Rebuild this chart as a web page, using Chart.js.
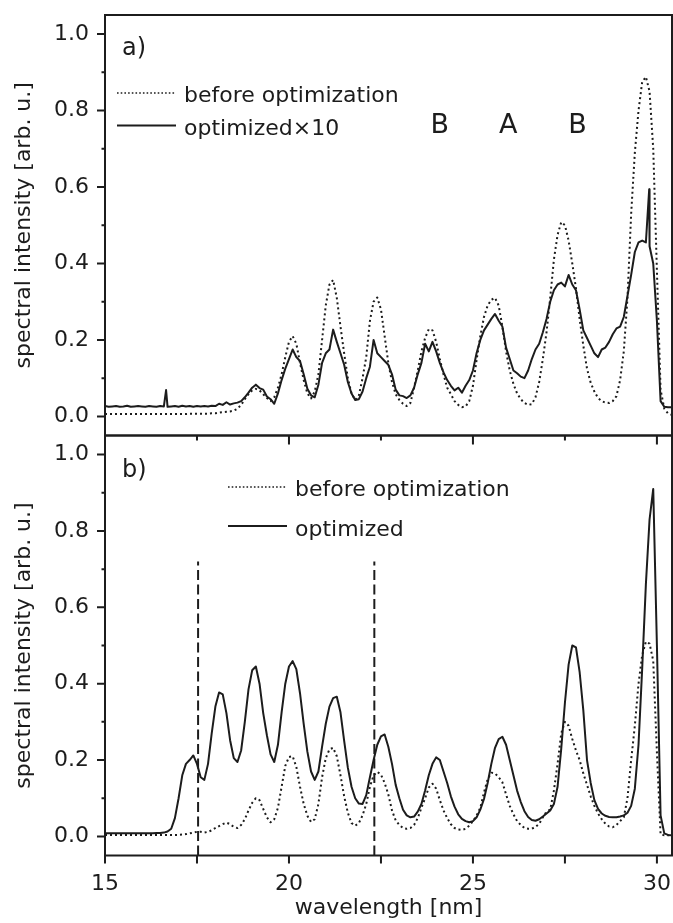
<!DOCTYPE html>
<html>
<head>
<meta charset="utf-8">
<script src="https://cdn.jsdelivr.net/npm/chart.js@4.4.1/dist/chart.umd.min.js"></script>
<style>
html,body{margin:0;padding:0;background:#fff;}
#wrap{position:relative;width:673px;height:923px;overflow:hidden;background:#fff;}
canvas{position:absolute;left:0;top:0;}
</style>
</head>
<body>
<div id="wrap">
<canvas id="chartB" width="673" height="923" style="width:673px;height:923px"></canvas>
<canvas id="chartA" width="673" height="923" style="width:673px;height:923px"></canvas>
</div>
<script>
// ---------------- data ----------------
const wavelength = [
15.0,15.1,15.2,15.3,15.4,15.5,15.6,15.7,15.8,15.9,
16.0,16.1,16.2,16.3,16.4,16.5,16.6,16.7,16.8,16.9,
17.0,17.1,17.2,17.3,17.4,17.5,17.6,17.7,17.8,17.9,
18.0,18.1,18.2,18.3,18.4,18.5,18.6,18.7,18.8,18.9,
19.0,19.1,19.2,19.3,19.4,19.5,19.6,19.7,19.8,19.9,
20.0,20.1,20.2,20.3,20.4,20.5,20.6,20.7,20.8,20.9,
21.0,21.1,21.2,21.3,21.4,21.5,21.6,21.7,21.8,21.9,
22.0,22.1,22.2,22.3,22.4,22.5,22.6,22.7,22.8,22.9,
23.0,23.1,23.2,23.3,23.4,23.5,23.6,23.7,23.8,23.9,
24.0,24.1,24.2,24.3,24.4,24.5,24.6,24.7,24.8,24.9,
25.0,25.1,25.2,25.3,25.4,25.5,25.6,25.7,25.8,25.9,
26.0,26.1,26.2,26.3,26.4,26.5,26.6,26.7,26.8,26.9,
27.0,27.1,27.2,27.3,27.4,27.5,27.6,27.7,27.8,27.9,
28.0,28.1,28.2,28.3,28.4,28.5,28.6,28.7,28.8,28.9,
29.0,29.1,29.2,29.3,29.4,29.5,29.6,29.7,29.8,29.9,
30.0,30.1,30.2,30.3,30.4
];

// panel a) before optimization (dotted)
const beforeA = [
0.006,0.006,0.006,0.006,0.006,0.006,0.006,0.006,0.006,0.006,
0.006,0.006,0.006,0.006,0.006,0.006,0.006,0.006,0.006,0.006,
0.006,0.006,0.006,0.007,0.007,0.007,0.007,0.007,0.007,0.008,
0.008,0.010,0.011,0.012,0.013,0.015,0.020,0.030,0.045,0.058,
0.068,0.072,0.068,0.058,0.048,0.040,0.050,0.075,0.110,0.155,
0.195,0.210,0.190,0.140,0.095,0.060,0.047,0.065,0.110,0.200,
0.290,0.345,0.357,0.310,0.235,0.165,0.100,0.060,0.043,0.055,
0.100,0.155,0.250,0.300,0.311,0.280,0.210,0.140,0.090,0.058,
0.043,0.033,0.027,0.035,0.075,0.120,0.170,0.205,0.228,0.225,
0.195,0.150,0.110,0.075,0.058,0.040,0.030,0.024,0.026,0.040,
0.080,0.148,0.210,0.260,0.290,0.305,0.310,0.290,0.235,0.170,
0.120,0.085,0.060,0.045,0.035,0.030,0.032,0.050,0.090,0.150,
0.220,0.310,0.410,0.475,0.508,0.500,0.460,0.400,0.335,0.255,
0.185,0.125,0.088,0.065,0.048,0.040,0.036,0.035,0.040,0.053,
0.095,0.170,0.310,0.530,0.690,0.800,0.875,0.888,0.850,0.700,
0.380,0.070,0.020,0.008,0.004
];

// panel a) optimized x10 (solid)
const optimizedA = [
0.027,0.025,0.026,0.027,0.025,0.026,0.028,0.025,0.026,0.027,
0.026,0.025,0.027,0.026,0.025,0.027,0.026,0.025,0.026,0.027,
0.025,0.028,0.026,0.027,0.025,0.027,0.026,0.027,0.026,0.028,
0.027,0.033,0.030,0.037,0.031,0.034,0.036,0.040,0.050,0.062,
0.075,0.083,0.074,0.070,0.052,0.045,0.033,0.060,0.095,0.125,
0.150,0.175,0.155,0.145,0.110,0.072,0.055,0.050,0.083,0.140,
0.165,0.175,0.227,0.195,0.165,0.135,0.090,0.060,0.043,0.045,
0.065,0.100,0.130,0.200,0.165,0.155,0.145,0.135,0.110,0.070,
0.055,0.053,0.048,0.055,0.075,0.110,0.140,0.190,0.170,0.195,
0.170,0.140,0.115,0.095,0.080,0.068,0.075,0.062,0.080,0.095,
0.120,0.166,0.200,0.225,0.240,0.255,0.268,0.250,0.235,0.180,
0.150,0.120,0.113,0.104,0.100,0.120,0.150,0.175,0.190,0.220,
0.255,0.300,0.330,0.345,0.350,0.340,0.370,0.345,0.330,0.280,
0.225,0.205,0.185,0.165,0.155,0.175,0.180,0.195,0.215,0.230,
0.235,0.260,0.315,0.370,0.430,0.455,0.460,0.455,0.445,0.400,
0.250,0.040,0.025,0.024,0.024
];
// narrow spikes in the optimized x10 trace
const spikeWavelength = [16.66, 29.79];
const spikeValue = [0.069, 0.594];

// panel b) before optimization (dotted)
const beforeB = [
0.004,0.004,0.004,0.004,0.004,0.004,0.004,0.004,0.004,0.004,
0.004,0.004,0.004,0.004,0.004,0.004,0.004,0.004,0.004,0.004,
0.004,0.005,0.006,0.008,0.010,0.012,0.012,0.010,0.012,0.016,
0.022,0.027,0.032,0.036,0.032,0.025,0.022,0.030,0.045,0.068,
0.088,0.100,0.095,0.072,0.050,0.037,0.045,0.075,0.130,0.185,
0.208,0.210,0.182,0.130,0.085,0.054,0.038,0.045,0.085,0.155,
0.205,0.228,0.232,0.210,0.160,0.105,0.062,0.035,0.028,0.035,
0.055,0.085,0.130,0.160,0.169,0.162,0.140,0.110,0.068,0.042,
0.030,0.022,0.020,0.022,0.030,0.048,0.075,0.100,0.128,0.138,
0.125,0.095,0.068,0.048,0.032,0.022,0.018,0.017,0.020,0.028,
0.040,0.055,0.075,0.115,0.150,0.167,0.165,0.155,0.142,0.110,
0.080,0.058,0.040,0.030,0.022,0.020,0.020,0.025,0.033,0.050,
0.065,0.070,0.120,0.190,0.270,0.300,0.290,0.255,0.225,0.200,
0.165,0.135,0.105,0.080,0.060,0.045,0.033,0.026,0.024,0.030,
0.040,0.050,0.100,0.200,0.290,0.400,0.475,0.510,0.505,0.460,
0.220,0.005,0.003,0.003,0.003
];

// panel b) optimized (solid)
const optimizedB = [
0.008,0.008,0.008,0.008,0.008,0.008,0.008,0.008,0.008,0.008,
0.008,0.008,0.008,0.008,0.009,0.009,0.010,0.013,0.020,0.048,
0.100,0.160,0.190,0.200,0.212,0.190,0.155,0.148,0.190,0.270,
0.340,0.377,0.372,0.323,0.252,0.205,0.195,0.225,0.300,0.385,
0.435,0.445,0.400,0.323,0.265,0.215,0.195,0.240,0.325,0.400,
0.445,0.459,0.438,0.375,0.295,0.222,0.170,0.148,0.170,0.235,
0.295,0.340,0.362,0.366,0.325,0.250,0.180,0.130,0.100,0.086,
0.085,0.108,0.155,0.200,0.240,0.262,0.267,0.235,0.190,0.135,
0.100,0.070,0.055,0.050,0.052,0.065,0.085,0.120,0.160,0.190,
0.207,0.200,0.170,0.140,0.105,0.078,0.058,0.046,0.040,0.037,
0.040,0.050,0.070,0.098,0.140,0.190,0.232,0.255,0.261,0.240,
0.200,0.160,0.120,0.090,0.066,0.051,0.043,0.041,0.045,0.052,
0.060,0.068,0.085,0.130,0.230,0.350,0.450,0.500,0.495,0.430,
0.330,0.200,0.140,0.095,0.072,0.060,0.054,0.051,0.050,0.050,
0.052,0.055,0.062,0.080,0.125,0.240,0.440,0.660,0.830,0.910,
0.500,0.055,0.008,0.004,0.003
];

// dashed markers in panel b)
const markerWavelength = [17.53, 22.32];
const markerTop = 0.72;

// ticks and labels
const xTickLabels = [15, 20, 25, 30];
const xMinorTicks = [17.5, 22.5, 27.5];
const yTickLabels = [0.0, 0.2, 0.4, 0.6, 0.8, 1.0];
const yMinorTicks = [0.1, 0.3, 0.5, 0.7, 0.9];
const legendA = ['before optimization', 'optimized\u00d710'];
const legendB = ['before optimization', 'optimized'];
const peakLabels = ['B', 'A', 'B'];
const yTitle = 'spectral intensity [arb. u.]';
const xTitle = 'wavelength [nm]';

// ---------------- rendering ----------------
const INK = '#1c1c1c';
const FONT = "'DejaVu Sans', 'Liberation Sans', sans-serif";
const X_MIN = 15, X_MAX = 30.41, Y_MIN = -0.05, Y_MAX = 1.05;
const DOT = [2, 3];

function pts(xs, ys) { return xs.map((x, i) => ({x: x, y: ys[i]})); }
function withSpikes(xs, ys, sx, sy) {
  const arr = pts(xs, ys).concat(pts(sx, sy));
  arr.sort((a, b) => a.x - b.x);
  return arr;
}

const decor = {
  id: 'decor',
  afterDraw(chart, args, o) {
    const {ctx, chartArea: a} = chart;
    const xs = chart.scales.x, ys = chart.scales.y;
    ctx.save();
    ctx.strokeStyle = INK;
    ctx.fillStyle = INK;
    ctx.lineWidth = 2;
    ctx.setLineDash([]);
    ctx.beginPath();
    yTickLabels.forEach(v => { const p = ys.getPixelForValue(v); ctx.moveTo(a.left - 8, p); ctx.lineTo(a.left, p); });
    yMinorTicks.forEach(v => { const p = ys.getPixelForValue(v); ctx.moveTo(a.left - 3.5, p); ctx.lineTo(a.left, p); });
    xTickLabels.forEach(v => { if (v <= X_MIN) return; const p = xs.getPixelForValue(v); ctx.moveTo(p, a.bottom); ctx.lineTo(p, a.bottom + o.majorLen); });
    xMinorTicks.forEach(v => { const p = xs.getPixelForValue(v); ctx.moveTo(p, a.bottom); ctx.lineTo(p, a.bottom + o.minorLen); });
    if (o.leftExt) { ctx.moveTo(a.left, a.bottom); ctx.lineTo(a.left, a.bottom + o.leftExt); }
    ctx.stroke();
    ctx.strokeRect(a.left, a.top, a.right - a.left, a.bottom - a.top);
    ctx.textAlign = 'left';
    ctx.textBaseline = 'alphabetic';
    ctx.font = '24px ' + FONT;
    ctx.fillText(o.panel, o.panelX, o.panelY);
    ctx.font = '22px ' + FONT;
    o.legend.forEach((txt, i) => {
      const r = o.rows[i];
      ctx.beginPath();
      if (i === 0) { ctx.setLineDash([1.6, 2.1]); ctx.lineWidth = 1.6; }
      else { ctx.setLineDash([]); ctx.lineWidth = 2; }
      ctx.moveTo(o.lx0, r.y); ctx.lineTo(o.lx1, r.y);
      ctx.stroke();
      ctx.setLineDash([]);
      ctx.fillText(txt, o.tx, r.base);
    });
    if (o.peaks) {
      ctx.font = '27px ' + FONT;
      ctx.textAlign = 'center';
      peakLabels.forEach((t, i) => {
        ctx.fillText(t, xs.getPixelForValue(o.peaks.x[i]), ys.getPixelForValue(o.peaks.y));
      });
    }
    ctx.restore();
  }
};

function yScale() {
  return {
    type: 'linear', min: Y_MIN, max: Y_MAX,
    afterFit: s => { s.width = 105; s.paddingTop = 0; s.paddingBottom = 0; },
    afterBuildTicks: s => { s.ticks = yTickLabels.map(v => ({value: v})); },
    grid: {display: false, drawTicks: false},
    border: {display: false},
    ticks: {color: INK, font: {family: FONT, size: 22}, padding: 16, callback: v => Number(v).toFixed(1)},
    title: {display: true, text: yTitle, color: INK, font: {family: FONT, size: 22}, padding: {top: 11, bottom: 0}}
  };
}

function lineSet(data, dotted, width) {
  return {
    data: data, borderColor: INK, borderWidth: width || 2, pointRadius: 0,
    borderDash: dotted ? DOT : [], borderCapStyle: 'butt', borderJoinStyle: 'round',
    tension: 0, fill: false
  };
}

// panel a)
new Chart(document.getElementById('chartA'), {
  type: 'line',
  data: {
    datasets: [
      lineSet(pts(wavelength, beforeA), true),
      lineSet(withSpikes(wavelength, optimizedA, spikeWavelength, spikeValue), false, 2)
    ]
  },
  options: {
    responsive: false, devicePixelRatio: 1, animation: false,
    layout: {padding: {top: 15, bottom: 487.5, left: 0, right: 1}},
    plugins: {
      legend: {display: false}, tooltip: {enabled: false},
      decor: {
        majorLen: 9, minorLen: 5, leftExt: 0,
        panel: 'a)', panelX: 122, panelY: 55,
        legend: legendA, lx0: 117, lx1: 176, tx: 184,
        rows: [{y: 93, base: 102}, {y: 125.5, base: 135}],
        peaks: {x: [24.1, 25.96, 27.84], y: 0.742}
      }
    },
    scales: {
      x: {type: 'linear', min: X_MIN, max: X_MAX, display: false},
      y: yScale()
    }
  },
  plugins: [decor]
});

// panel b)
new Chart(document.getElementById('chartB'), {
  type: 'line',
  data: {
    datasets: [
      lineSet(pts(wavelength, beforeB), true),
      lineSet(pts(wavelength, optimizedB), false, 2),
      ...markerWavelength.map(w => ({
        data: [{x: w, y: Y_MIN}, {x: w, y: markerTop}], borderColor: INK, borderWidth: 2,
        pointRadius: 0, borderDash: [10, 4.5], borderCapStyle: 'butt', fill: false
      }))
    ]
  },
  options: {
    responsive: false, devicePixelRatio: 1, animation: false,
    layout: {padding: {top: 435.5, bottom: 0, left: 0, right: 1}},
    plugins: {
      legend: {display: false}, tooltip: {enabled: false},
      decor: {
        majorLen: 8, minorLen: 8, leftExt: 8,
        panel: 'b)', panelX: 122, panelY: 477,
        legend: legendB, lx0: 228, lx1: 287, tx: 295,
        rows: [{y: 487, base: 496}, {y: 526, base: 535.5}],
        peaks: null
      }
    },
    scales: {
      x: {
        type: 'linear', min: X_MIN, max: X_MAX,
        afterFit: s => { s.height = 67.5; s.paddingLeft = 0; s.paddingRight = 0; },
        afterBuildTicks: s => { s.ticks = xTickLabels.map(v => ({value: v})); },
        grid: {display: false, drawTicks: false},
        border: {display: false},
        ticks: {color: INK, font: {family: FONT, size: 22}, padding: 16, maxRotation: 0, autoSkip: false},
        title: {display: true, text: xTitle, color: INK, font: {family: FONT, size: 22}, padding: {top: 0, bottom: 2}}
      },
      y: yScale()
    }
  },
  plugins: [decor]
});
</script>
</body>
</html>
